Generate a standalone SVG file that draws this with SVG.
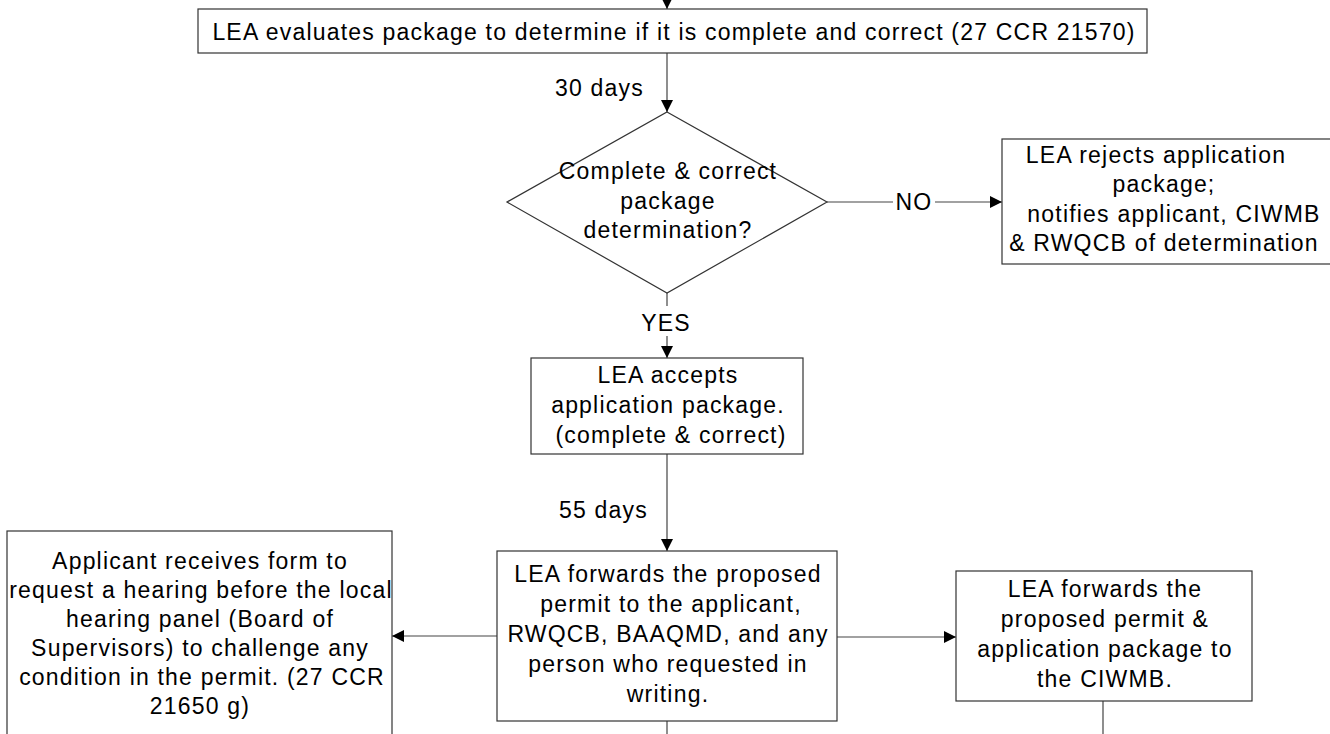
<svg xmlns="http://www.w3.org/2000/svg" width="1330" height="734" viewBox="0 0 1330 734">
<style>
.box{fill:#fff;stroke:#333;stroke-width:1.2}
.ln{fill:none;stroke:#444;stroke-width:1.2}
text{font-family:"Liberation Sans",Arial,sans-serif;font-size:23px;fill:#000;letter-spacing:1.2px}
.c{text-anchor:middle}
</style>
<defs>
<marker id="ah" viewBox="0 0 12 12" refX="12" refY="6" markerWidth="12" markerHeight="12" markerUnits="userSpaceOnUse" orient="auto">
<path d="M0,0 L12,6 L0,12 Z" fill="#000"/>
</marker>
</defs>
<rect width="1330" height="734" fill="#fff"/>
<g id="connectors">
<line class="ln" x1="667" y1="-5" x2="667" y2="9" marker-end="url(#ah)"/>
<line class="ln" x1="667" y1="53" x2="667" y2="112" marker-end="url(#ah)"/>
<line class="ln" x1="827" y1="202" x2="893" y2="202"/>
<line class="ln" x1="935" y1="202" x2="1002" y2="202" marker-end="url(#ah)"/>
<line class="ln" x1="667" y1="293" x2="667" y2="306"/>
<line class="ln" x1="667" y1="336" x2="667" y2="358" marker-end="url(#ah)"/>
<line class="ln" x1="667" y1="454" x2="667" y2="551" marker-end="url(#ah)"/>
<line class="ln" x1="667" y1="721" x2="667" y2="740"/>
<line class="ln" x1="497" y1="636" x2="392" y2="636" marker-end="url(#ah)"/>
<line class="ln" x1="837" y1="637" x2="956" y2="637" marker-end="url(#ah)"/>
<line class="ln" x1="1103" y1="701" x2="1103" y2="740"/>
<text x="644" y="96" style="text-anchor:end">30 days</text>
<text class="c" x="914" y="210">NO</text>
<text class="c" x="666" y="331">YES</text>
<text x="648" y="518" style="text-anchor:end">55 days</text>
</g>
<g id="evaluate">
<rect class="box" x="198" y="9" width="949" height="44"/>
<text class="c" x="674" y="40">LEA evaluates package to determine if it is complete and correct (27 CCR 21570)</text>
</g>
<g id="decision">
<polygon class="box" points="667,112 827,202 667,293 507,202"/>
<text class="c" x="668" y="179">Complete &amp; correct</text>
<text class="c" x="668" y="209">package</text>
<text class="c" x="668" y="238">determination?</text>
</g>
<g id="reject">
<rect class="box" x="1002" y="139" width="340" height="125"/>
<text class="c" x="1156" y="163">LEA rejects application</text>
<text class="c" x="1164" y="192">package;</text>
<text class="c" x="1174" y="222">notifies applicant, CIWMB</text>
<text class="c" x="1164" y="251">&amp; RWQCB of determination</text>
</g>
<g id="accept">
<rect class="box" x="531" y="358" width="272" height="96"/>
<text class="c" x="668" y="383">LEA accepts</text>
<text class="c" x="668" y="413">application package.</text>
<text class="c" x="671" y="443">(complete &amp; correct)</text>
</g>
<g id="forward">
<rect class="box" x="497" y="551" width="340" height="170"/>
<text class="c" x="668" y="582">LEA forwards the proposed</text>
<text class="c" x="671" y="612">permit to the applicant,</text>
<text class="c" x="668" y="642">RWQCB, BAAQMD, and any</text>
<text class="c" x="668" y="672">person who requested in</text>
<text class="c" x="668" y="702">writing.</text>
</g>
<g id="hearing">
<rect class="box" x="7" y="531" width="385" height="220"/>
<text class="c" x="200" y="569">Applicant receives form to</text>
<text class="c" x="201" y="598">request a hearing before the local</text>
<text class="c" x="200" y="627">hearing panel (Board of</text>
<text class="c" x="200" y="656">Supervisors) to challenge any</text>
<text class="c" x="202" y="685">condition in the permit. (27 CCR</text>
<text class="c" x="200" y="714">21650 g)</text>
</g>
<g id="ciwmb">
<rect class="box" x="956" y="571" width="296" height="130"/>
<text class="c" x="1105" y="597">LEA forwards the</text>
<text class="c" x="1105" y="627">proposed permit &amp;</text>
<text class="c" x="1105" y="657">application package to</text>
<text class="c" x="1105" y="687">the CIWMB.</text>
</g>
</svg>
